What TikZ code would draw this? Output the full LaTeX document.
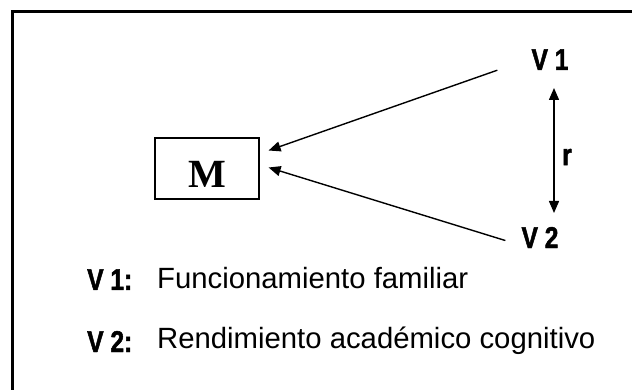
\documentclass[tikz,border=0pt]{standalone}
\usepackage{fontspec}
\setmainfont{Liberation Sans}
\newfontfamily\narrowbf[FakeStretch=0.82,BoldFeatures={FakeBold=1.6}]{Liberation Sans}
\newfontfamily\serifface{Liberation Serif}
\usetikzlibrary{arrows.meta,calc}
\tikzset{
  vlabel/.style={inner sep=0pt,anchor=base,font=\narrowbf\bfseries\fontsize{30}{30}\selectfont},
  legtext/.style={inner sep=0pt,anchor=base west,font=\fontsize{29.3}{30}\selectfont},
  arr/.style={line width=1.4pt,-{Triangle[length=12pt,width=10pt]}},
  darr/.style={line width=1.4pt,{Triangle[length=12pt,width=10pt]}-{Triangle[length=12pt,width=10pt]}}
}
\begin{document}
\begin{tikzpicture}[x=1pt,y=-1pt]
\useasboundingbox (0,0) rectangle (632,390);
\fill[white] (0,0) rectangle (632,390);
\begin{scope}
\clip (0,0) rectangle (632,390);
\draw[line width=3pt] (12,12) rectangle (660,420);
\end{scope}
\node[draw,line width=1.2pt,minimum width=104pt,minimum height=61pt,inner sep=0pt] (M) at (207,168.5) {};
\node[inner sep=0pt,anchor=base,font=\serifface\bfseries\fontsize{40}{40}\selectfont] (Mt) at ($(M.center)+(0,19.5)$) {M};
\node[vlabel] (V1) at (550,70) {V 1};
\node[vlabel] (V2) at (540,248) {V 2};
\node[inner sep=0pt,font=\narrowbf\bfseries\fontsize{30}{30}\selectfont] (r) at (567,157) {r};
\coordinate (s1) at ($(V1.south west)+(-34,0)$);
\coordinate (s2) at ($(V2.west)+(-16,3)$);
\draw[arr] (s1) -- ($(M.east)+(9,-18)$);
\draw[arr] (s2) -- ($(M.east)+(9,-1)$);
\coordinate (r1) at (554,88);
\coordinate (r2) at (554,213);
\draw[darr] (r1) -- (r2);
\node[legtext,font=\narrowbf\bfseries\fontsize{30}{30}\selectfont] (L1) at (87,290) {V 1:};
\node[legtext] (T1) at (157,288) {Funcionamiento familiar};
\node[legtext,font=\narrowbf\bfseries\fontsize{30}{30}\selectfont] (L2) at (87,352) {V 2:};
\node[legtext] (T2) at (157,348) {Rendimiento académico cognitivo};
\end{tikzpicture}
\end{document}
